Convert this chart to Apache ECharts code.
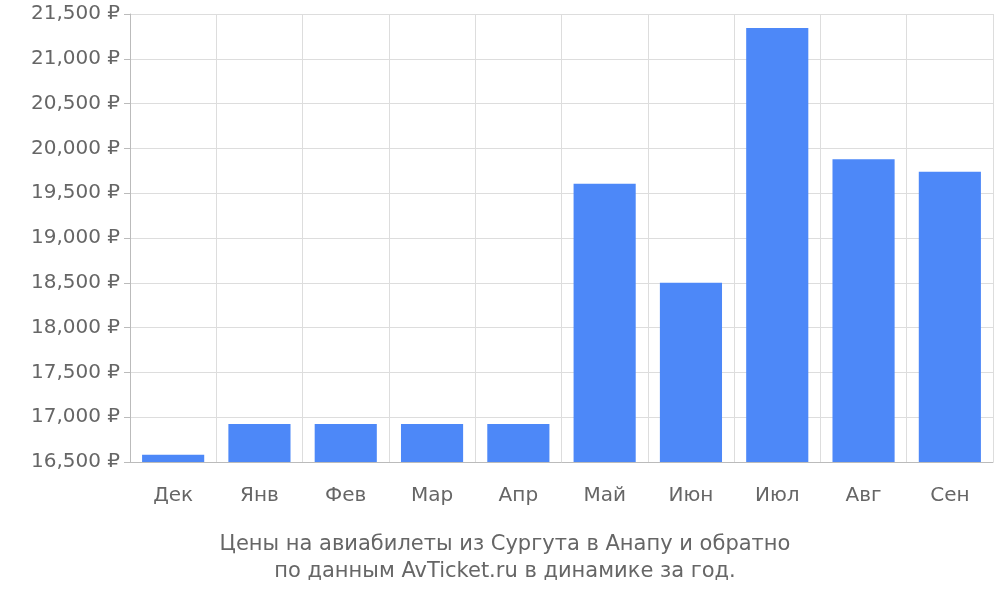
<!DOCTYPE html>
<html><head><meta charset="utf-8">
<script src="https://cdn.jsdelivr.net/npm/echarts@6/dist/echarts.min.js"></script>
<style>html,body{margin:0;padding:0}#c{width:1000px;height:600px}</style>
</head><body><div id="c"></div>
<script>
var months = ['Дек','Янв','Фев','Мар','Апр','Май','Июн','Июл','Авг','Сен'];
var prices = [16580, 16925, 16925, 16925, 16925, 19605, 18500, 21345, 19880, 19740];

(function(){
	var myChart = echarts.init(document.getElementById('c'));
	var option = {
		animation: false,
		textStyle: { fontFamily: 'DejaVu Sans' },
		grid: { left: 130, right: 7, top: 14, bottom: 138 },
		title: {
			text: 'Цены на авиабилеты из Сургута в Анапу и обратно\nпо данным AvTicket.ru в динамике за год.',
			left: 500, textAlign: 'center', bottom: 10,
			textStyle: { color: '#666', fontSize: 21, fontWeight: 'normal', lineHeight: 27, fontFamily: 'DejaVu Sans' }
		},
		xAxis: {
			type: 'category',
			data: months,
			axisLine: { lineStyle: { color: '#bbb' } },
			axisTick: { length: 18, lineStyle: { color: '#bbb' } },
			splitLine: { show: true, lineStyle: { color: '#ddd' } },
			axisLabel: { color: '#666', fontSize: 20, margin: 24 }
		},
		yAxis: {
			type: 'value',
			min: 16500, max: 21500, interval: 500,
			axisLine: { show: true, lineStyle: { color: '#bbb' } },
			axisTick: { show: true, length: 6, lineStyle: { color: '#bbb' } },
			splitLine: { lineStyle: { color: '#ddd' } },
			axisLabel: { color: '#666', fontSize: 20, formatter: '{value} ₽', margin: 10 }
		},
		series: [{
			type: 'bar',
			data: prices,
			barWidth: '72%',
			itemStyle: { color: '#4d88f8' }
		}]
	};
	myChart.setOption(option);
})();
</script></body></html>
